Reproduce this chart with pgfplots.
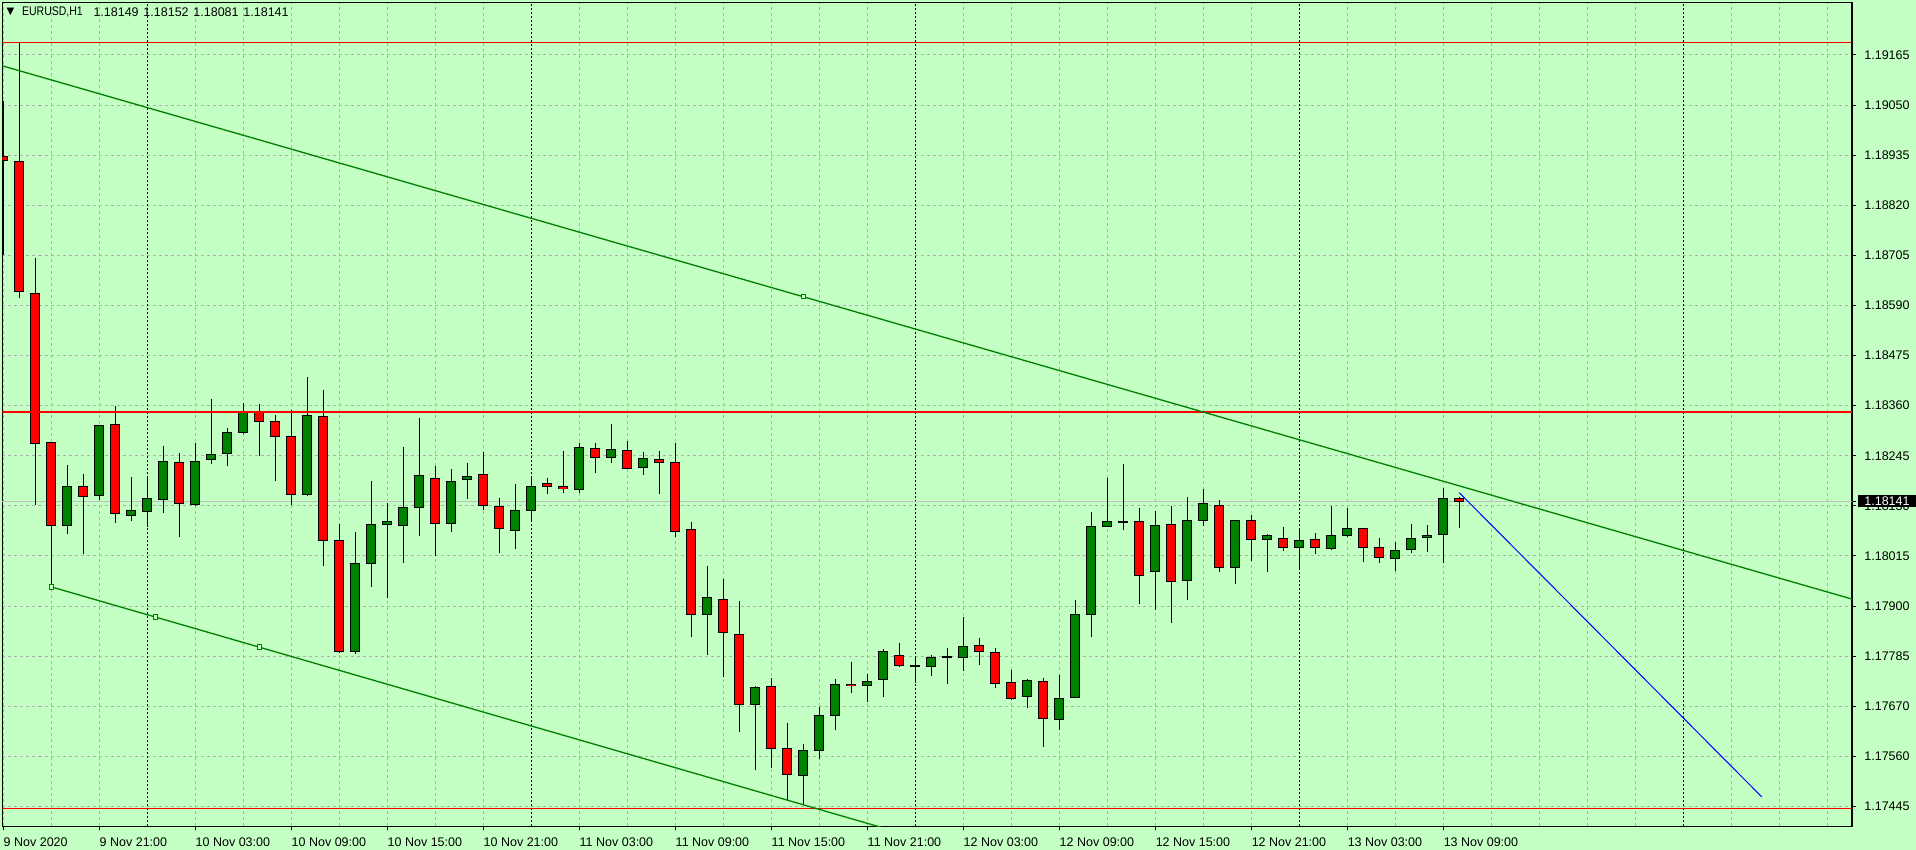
\documentclass[border=0pt]{standalone}
\usepackage{fontspec}
\setmainfont{Liberation Sans}
\newfontfamily\dejavu{DejaVu Sans}
\usepackage{graphicx}
\usepackage{pgfplots}
\usepackage{pgfplotstable}
\pgfplotsset{compat=1.18}

\definecolor{bg}{RGB}{196,255,196}
\definecolor{gridc}{RGB}{176,176,176}
\definecolor{bull}{RGB}{0,128,0}
\definecolor{bear}{RGB}{255,0,0}
\definecolor{trend}{RGB}{0,128,0}
\definecolor{priceline}{RGB}{192,192,192}
\newcommand\tickfont{\fontsize{6.25pt}{7pt}\selectfont}

% EURUSD H1, bar 0 = 9 Nov 15:00
\pgfplotstableread{
i o h l c
0 1.18932 1.19061 1.18707 1.18923
1 1.18921 1.19194 1.18607 1.18622
2 1.18618 1.18700 1.18132 1.18274
3 1.18274 1.18274 1.17944 1.18085
4 1.18085 1.18224 1.18065 1.18174
5 1.18174 1.18205 1.18021 1.18152
6 1.18156 1.18315 1.18144 1.18315
7 1.18317 1.18361 1.18091 1.18112
8 1.18109 1.18197 1.18095 1.18121
9 1.18118 1.18199 1.18082 1.18147
10 1.18144 1.18268 1.18113 1.18233
11 1.18230 1.18251 1.18060 1.18137
12 1.18134 1.18274 1.18131 1.18233
13 1.18238 1.18377 1.18228 1.18250
14 1.18251 1.18309 1.18222 1.18299
15 1.18299 1.18366 1.18296 1.18345
16 1.18347 1.18365 1.18244 1.18325
17 1.18325 1.18340 1.18188 1.18290
18 1.18290 1.18350 1.18132 1.18157
19 1.18157 1.18427 1.18154 1.18338
20 1.18336 1.18398 1.17994 1.18051
21 1.18051 1.18088 1.17792 1.17795
22 1.17795 1.18070 1.17790 1.17997
23 1.17997 1.18188 1.17945 1.18087
24 1.18087 1.18138 1.17920 1.18095
25 1.18087 1.18265 1.18000 1.18127
26 1.18127 1.18332 1.18062 1.18200
27 1.18195 1.18222 1.18015 1.18090
28 1.18090 1.18216 1.18071 1.18186
29 1.18191 1.18228 1.18147 1.18198
30 1.18202 1.18254 1.18121 1.18132
31 1.18129 1.18148 1.18023 1.18079
32 1.18075 1.18180 1.18031 1.18120
33 1.18120 1.18200 1.18096 1.18175
34 1.18181 1.18196 1.18158 1.18175
35 1.18175 1.18256 1.18161 1.18170
36 1.18168 1.18276 1.18161 1.18264
37 1.18262 1.18276 1.18206 1.18242
38 1.18242 1.18320 1.18230 1.18259
39 1.18259 1.18280 1.18218 1.18218
40 1.18218 1.18254 1.18202 1.18239
41 1.18239 1.18258 1.18158 1.18232
42 1.18230 1.18274 1.18059 1.18071
43 1.18076 1.18093 1.17830 1.17881
44 1.17881 1.17992 1.17788 1.17920
45 1.17916 1.17963 1.17738 1.17840
46 1.17836 1.17912 1.17612 1.17675
47 1.17675 1.17717 1.17524 1.17714
48 1.17717 1.17735 1.17528 1.17574
49 1.17572 1.17632 1.17454 1.17514
50 1.17511 1.17584 1.17444 1.17570
51 1.17570 1.17670 1.17550 1.17650
52 1.17650 1.17734 1.17616 1.17721
53 1.17721 1.17772 1.17701 1.17717
54 1.17717 1.17744 1.17681 1.17728
55 1.17731 1.17802 1.17691 1.17795
56 1.17788 1.17816 1.17760 1.17764
57 1.17764 1.17787 1.17725 1.17764
58 1.17763 1.17790 1.17741 1.17783
59 1.17784 1.17805 1.17723 1.17786
60 1.17783 1.17877 1.17751 1.17809
61 1.17809 1.17828 1.17767 1.17796
62 1.17795 1.17804 1.17714 1.17724
63 1.17724 1.17754 1.17684 1.17689
64 1.17691 1.17734 1.17668 1.17728
65 1.17728 1.17736 1.17576 1.17643
66 1.17641 1.17743 1.17616 1.17689
67 1.17691 1.17915 1.17691 1.17882
68 1.17882 1.18115 1.17829 1.18085
69 1.18082 1.18196 1.18082 1.18094
70 1.18094 1.18226 1.18075 1.18094
71 1.18096 1.18125 1.17905 1.17972
72 1.17981 1.18120 1.17892 1.18087
73 1.18087 1.18130 1.17861 1.17958
74 1.17958 1.18152 1.17916 1.18096
75 1.18096 1.18168 1.18084 1.18135
76 1.18133 1.18143 1.17978 1.17990
77 1.17988 1.18099 1.17951 1.18096
78 1.18096 1.18109 1.18004 1.18053
79 1.18053 1.18067 1.17980 1.18062
80 1.18057 1.18083 1.18026 1.18036
81 1.18034 1.18079 1.17987 1.18050
82 1.18053 1.18069 1.18020 1.18034
83 1.18034 1.18129 1.18029 1.18064
84 1.18062 1.18127 1.18059 1.18078
85 1.18078 1.18078 1.18001 1.18036
86 1.18036 1.18057 1.17999 1.18013
87 1.18011 1.18046 1.17980 1.18030
88 1.18030 1.18090 1.18023 1.18055
89 1.18059 1.18086 1.18024 1.18064
90 1.18066 1.18173 1.17999 1.18149
91 1.18149 1.18152 1.18081 1.18141
}\candles

\begin{document}
\begin{tikzpicture}
\fill[bg] (-1.25pt,-11.75pt) rectangle (956.75pt,413.25pt);
\begin{axis}[
    scale only axis,
    width=924.75pt, height=411.9pt,
    xmin=-0.05, xmax=115.54,
    ymin=1.17394, ymax=1.19285,
    axis background/.style={fill=bg},
    axis line style={black, line width=0.6pt},
    tick style={black, line width=0.5pt},
    tick align=outside,
    major tick length=2pt,
    minor tick length=0pt,
    xtick pos=bottom,
    ytick pos=right,
    yticklabel pos=right,
    scaled x ticks=false, scaled y ticks=false,
    xtick={0,6,...,90},
    xticklabels={9 Nov 2020, 9 Nov 21:00, 10 Nov 03:00, 10 Nov 09:00, 10 Nov 15:00, 10 Nov 21:00, 11 Nov 03:00, 11 Nov 09:00, 11 Nov 15:00, 11 Nov 21:00, 12 Nov 03:00, 12 Nov 09:00, 12 Nov 15:00, 12 Nov 21:00, 13 Nov 03:00, 13 Nov 09:00},
    minor xtick={3,15,21,27,39,45,51,63,69,75,87,93,96,99,102,108,111,114},
    ytick={1.19165,1.19050,1.18935,1.18820,1.18705,1.18590,1.18475,1.18360,1.18245,1.18130,1.18015,1.17900,1.17785,1.17670,1.17555,1.17440},
    yticklabels={1.19165,1.19050,1.18935,1.18820,1.18705,1.18590,1.18475,1.18360,1.18245,1.18130,1.18015,1.17900,1.17785,1.17670,1.17560,1.17445},
    ticklabel style={font=\tickfont, black, inner sep=0pt},
    xticklabel style={anchor=north west, yshift=-3.2pt},
    yticklabel style={anchor=west, xshift=4pt},
    grid=both,
    major grid style={gridc, line width=0.5pt, dash pattern=on 1.5pt off 1.5pt},
    minor grid style={gridc, line width=0.5pt, dash pattern=on 1.5pt off 1.5pt},
    extra x ticks={9,33,57,81,105},
    extra x tick labels={},
    extra x tick style={grid=major, major tick length=0pt,
        major grid style={black, line width=0.5pt, dash pattern=on 1pt off 1pt}},
    extra y ticks={1.18141},
    extra y tick labels={1.18141},
    extra y tick style={grid=major,
        major grid style={priceline, solid, line width=0.5pt},
        yticklabel style={fill=black, text=white, inner xsep=3pt, inner ysep=0.8pt, xshift=-3pt}},
    candle/.style={forget plot, draw=none, mark=none,
        error bars/y dir=both, error bars/y explicit, error bars/error mark=none},
]
% wicks
\addplot[candle, error bars/error bar style={draw=black, line width=0.5pt}]
    table[x=i, y expr={(\thisrow{h}+\thisrow{l})/2}, y error expr={(\thisrow{h}-\thisrow{l})/2}] {\candles};
% body outline
\addplot[candle, error bars/error bar style={draw=black, line width=5pt}]
    table[x=i, y expr={(\thisrow{o}+\thisrow{c})/2}, y error expr={abs(\thisrow{c}-\thisrow{o})/2+0.0000115}] {\candles};
% bull bodies
\addplot[candle, restrict expr to domain={\thisrow{c}>=\thisrow{o}}{0.5:1.5},
    error bars/error bar style={draw=bull, line width=4pt}]
    table[x=i, y expr={(\thisrow{o}+\thisrow{c})/2}, y error expr={max(abs(\thisrow{c}-\thisrow{o})/2-0.0000115,0)}] {\candles};
% bear bodies
\addplot[candle, restrict expr to domain={\thisrow{c}<\thisrow{o}}{0.5:1.5},
    error bars/error bar style={draw=bear, line width=4pt}]
    table[x=i, y expr={(\thisrow{o}+\thisrow{c})/2}, y error expr={max(abs(\thisrow{c}-\thisrow{o})/2-0.0000115,0)}] {\candles};

% horizontal levels
\addplot[bear, line width=0.7pt] coordinates {(-0.05,1.19194) (115.54,1.19194)};
\addplot[bear, line width=0.7pt] coordinates {(-0.05,1.18345) (115.54,1.18345)};
\addplot[bear, line width=0.7pt] coordinates {(-0.05,1.17435) (115.54,1.17435)};
% trend lines
\addplot[trend, line width=0.65pt] coordinates {(-0.05,1.19140) (115.54,1.17916)};
\addplot[trend, line width=0.65pt] coordinates {(3,1.17944) (56,1.17380)};
\addplot[only marks, mark=square*, mark size=1.1pt,
    mark options={draw=trend, fill=bg, line width=0.5pt}]
    coordinates {(3,1.17944) (9.5,1.17875) (16,1.17806) (50,1.18610)};
\addplot[blue, line width=0.5pt] coordinates {(91,1.18160) (109.9,1.17462)};

\node[anchor=west, inner sep=0pt, xshift=1.8pt, yshift=-4.6pt] at (rel axis cs:0,1)
    {\dejavu\fontsize{5pt}{5pt}\selectfont ▼};
\node[anchor=west, inner sep=0pt, font=\tickfont, xshift=9.6pt, yshift=-4.6pt] at (rel axis cs:0,1)
    {\scalebox{0.84}[1]{EURUSD,H1}};
\node[anchor=west, inner sep=0pt, font=\tickfont, xshift=45.3pt, yshift=-4.6pt] at (rel axis cs:0,1)
    {1.18149\hspace{2.4pt}1.18152\hspace{2.4pt}1.18081\hspace{2.4pt}1.18141};
\end{axis}
\pgfresetboundingbox
\path[use as bounding box] (-1.25pt,-11.75pt) rectangle (956.75pt,413.25pt);
\end{tikzpicture}
\end{document}
